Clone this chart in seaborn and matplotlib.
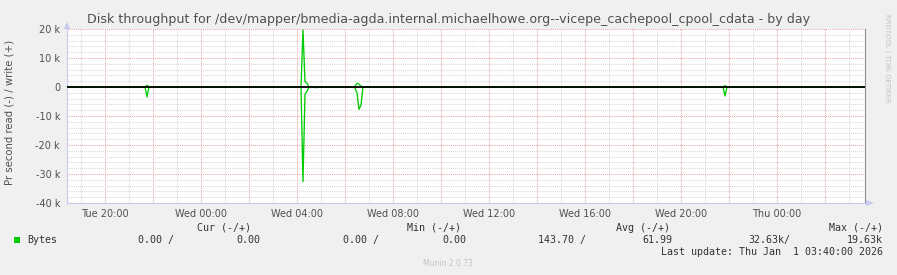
import numpy as np
import pandas as pd
import matplotlib
matplotlib.use("Agg")
import matplotlib.pyplot as plt
import seaborn as sns
import matplotlib.dates as mdates
from matplotlib.ticker import MultipleLocator, FuncFormatter
from matplotlib.patches import Polygon

# ---------------- data ----------------
title = "Disk throughput for /dev/mapper/bmedia-agda.internal.michaelhowe.org--vicepe_cachepool_cpool_cdata - by day"
ylabel = "Pr second read (-) / write (+)"
start_time = "2025-12-30 18:25"
end_time = "2026-01-01 03:40"
sample_times = ["2025-12-30 21:45",
                "2025-12-31 04:15", "2025-12-31 04:20", "2025-12-31 04:25",
                "2025-12-31 04:45", "2025-12-31 04:50",
                "2025-12-31 06:25", "2025-12-31 06:30", "2025-12-31 06:35", "2025-12-31 06:40",
                "2025-12-31 21:50"]
read_bytes = [3400, 32630, 2400, 1500, 200, 200, 300, 2000, 7700, 6200, 3100]
write_bytes = [600, 19630, 1800, 1300, 0, 0, 200, 1300, 1000, 300, 500]
series_name = "Bytes"
stat_headers = ["Cur (-/+)", "Min (-/+)", "Avg (-/+)", "Max (-/+)"]
stat_read = ["0.00 /", "0.00 /", "143.70 /", "32.63k/"]
stat_write = ["0.00", "0.00", "61.99", "19.63k"]
last_update = "Last update: Thu Jan  1 03:40:00 2026"
version_text = "Munin 2.0.73"
side_text = "RRDTOOL / TOBI OETIKER"

# ---------------- build frame ----------------
grid = pd.date_range(start_time, end_time, freq="5min")
sparse = pd.DataFrame({"read": read_bytes, "write": write_bytes},
                      index=pd.to_datetime(sample_times))
full = sparse.reindex(grid, fill_value=0)
full.index.name = "time"
long = pd.concat([
    pd.DataFrame({"time": full.index, "value": -full["read"].values, "dir": "read"}),
    pd.DataFrame({"time": full.index, "value": full["write"].values, "dir": "write"}),
])

# ---------------- figure ----------------
W, H = 897, 275
sns.set_style("white")
plt.rcParams["font.family"] = ["DejaVu Sans"]
fig = plt.figure(figsize=(W / 100, H / 100), dpi=100, facecolor="#f0f0f0")

def fx(x):
    return x / W

def fy(y):
    return 1 - y / H

ax = fig.add_axes([fx(67), fy(203), fx(865) - fx(67), fy(29) - fy(203)])
ax.set_facecolor("white")

green = "#00cc00"
sns.lineplot(data=long, x="time", y="value", hue="dir", units="dir", estimator=None,
             palette={"read": green, "write": green}, legend=False,
             linewidth=0.95, ax=ax, zorder=3)
ax.axhline(0, color="black", linewidth=1.3, zorder=10)

ax.set_xlim(pd.Timestamp(start_time), pd.Timestamp(end_time))
ax.set_ylim(-40000, 20000)

# grids
ax.xaxis.set_major_locator(mdates.HourLocator(byhour=range(0, 24, 2)))
ax.xaxis.set_minor_locator(mdates.HourLocator())

def xfmt(v, pos):
    d = mdates.num2date(v)
    return d.strftime("%a %H:%M") if d.hour % 4 == 0 else ""

ax.xaxis.set_major_formatter(FuncFormatter(xfmt))
ax.yaxis.set_major_locator(MultipleLocator(10000))
ax.yaxis.set_minor_locator(MultipleLocator(2000))

def yfmt(v, pos):
    if abs(v) < 1:
        return "0"
    return f"{int(round(v / 1000))} k"

ax.yaxis.set_major_formatter(FuncFormatter(yfmt))

ax.grid(which="minor", color="#d8d8d8", linestyle=(0, (1, 1)), linewidth=0.75, zorder=1)
ax.grid(which="major", color="#eaa6a6", linestyle=(0, (1, 1)), linewidth=0.75, zorder=2)
ax.set_axisbelow(True)

ax.tick_params(axis="both", which="both", length=0, labelsize=7, labelcolor="#505050")
ax.tick_params(axis="y", pad=5)
ax.tick_params(axis="x", pad=4)
ax.set_xlabel("")
ax.set_ylabel("")

ax.spines["top"].set_visible(False)
ax.spines["left"].set_color("#c8c8f0")
ax.spines["bottom"].set_color("#c8c8f0")
ax.spines["right"].set_color("#909090")
for s in ["left", "bottom", "right"]:
    ax.spines[s].set_linewidth(0.8)

# axis arrows
fig.patches.append(Polygon([[fx(64), fy(29)], [fx(70), fy(29)], [fx(67), fy(22)]],
                           closed=True, transform=fig.transFigure,
                           facecolor="#c8c8f0", edgecolor="none"))
fig.patches.append(Polygon([[fx(866), fy(200)], [fx(866), fy(206)], [fx(874), fy(203)]],
                           closed=True, transform=fig.transFigure,
                           facecolor="#c8c8f0", edgecolor="none"))

# texts
fig.text(fx(449), fy(19), title, ha="center", va="center", fontsize=9.1, color="#505050")
fig.text(fx(10), fy(112), ylabel, ha="center", va="center", rotation=90,
         fontsize=7.3, color="#505050")
fig.text(fx(887), fy(58), side_text, ha="center", va="center", rotation=270,
         fontsize=5, color="#c4c4c4")

mono = "DejaVu Sans Mono"
fs = 7.2
tc = "#333333"
header_right = [251, 461, 670, 883]
read_right = [174, 379, 586, 790]
write_right = [260, 466, 672, 883]
for h, xr in zip(stat_headers, header_right):
    fig.text(fx(xr), fy(228), h, ha="right", va="center", family=mono, fontsize=fs, color=tc)
fig.patches.append(plt.Rectangle((fx(14), fy(243)), fx(6), fy(237) - fy(243),
                                 transform=fig.transFigure, facecolor=green, edgecolor="none"))
fig.text(fx(27), fy(240), series_name, ha="left", va="center", family=mono, fontsize=fs, color=tc)
for r, xr in zip(stat_read, read_right):
    fig.text(fx(xr), fy(240), r, ha="right", va="center", family=mono, fontsize=fs, color=tc)
for w, xr in zip(stat_write, write_right):
    fig.text(fx(xr), fy(240), w, ha="right", va="center", family=mono, fontsize=fs, color=tc)
fig.text(fx(883), fy(252), last_update, ha="right", va="center", family=mono, fontsize=fs, color=tc)
fig.text(fx(448), fy(264), version_text, ha="center", va="center", fontsize=5.5, color="#c4c4c4")

fig.savefig("out.png", dpi=100, facecolor=fig.get_facecolor())
